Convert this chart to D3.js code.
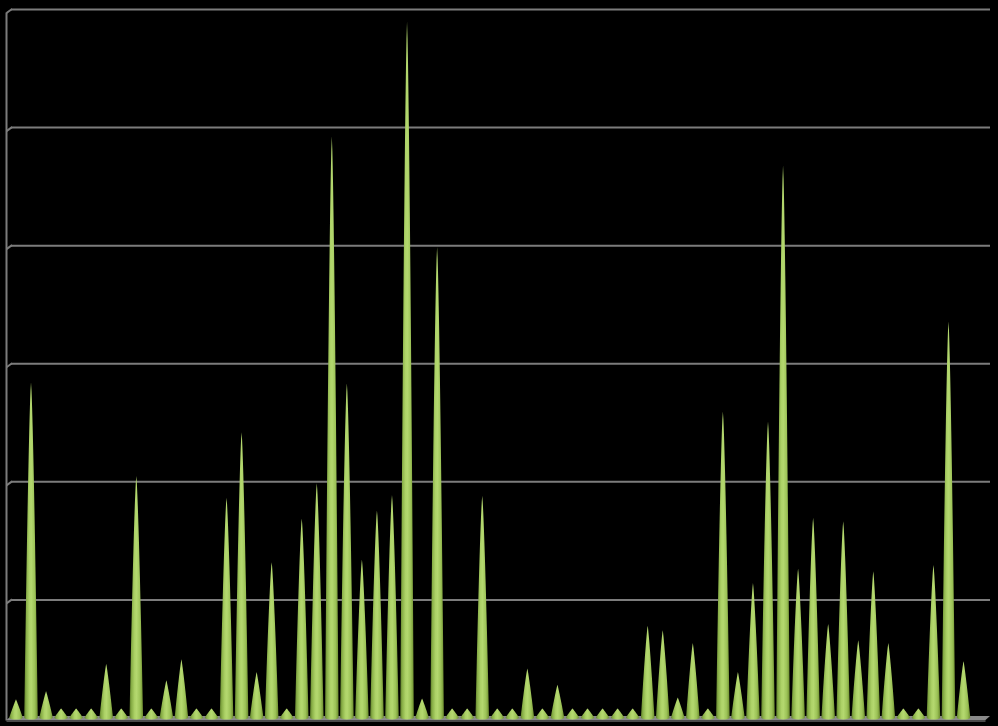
<!DOCTYPE html>
<html>
<head>
<meta charset="utf-8">
<script src="https://cdn.jsdelivr.net/npm/d3@7/dist/d3.min.js"></script>
<style>
  html, body { margin: 0; padding: 0; background: #000; }
  svg { display: block; }
</style>
</head>
<body>
<script>
// ---- data ----
const categories = ["1","2","3","4","5","6","7","8","9","10","11","12","13","14","15","16",
  "17","18","19","20","21","22","23","24","25","26","27","28","29","30","31","32",
  "33","34","35","36","37","38","39","40","41","42","43","44","45","46","47","48",
  "49","50","51","52","53","54","55","56","57","58","59","60","61","62","63","64"];
const values = [2, 36.9, 2.9, 1, 1, 1, 5.9, 1, 26.6, 1, 4.1, 6.4, 1, 1, 24.2, 31.4,
  5.0, 17.1, 1, 21.9, 25.8, 64.0, 36.8, 17.4, 22.8, 24.5, 76.6, 2.1, 51.8, 1, 1, 24.4,
  1, 1, 5.4, 1, 3.6, 1, 1, 1, 1, 1, 10.1, 9.6, 2.2, 8.2, 1, 33.7,
  5.0, 14.8, 32.6, 60.8, 16.4, 22.0, 10.3, 21.6, 8.5, 16.1, 8.2, 1, 1, 16.8, 43.6, 6.2];
const yTicks = [0, 13, 26, 39, 52, 65, 78];

// ---- layout ----
const W = 998, H = 726;
const svg = d3.select("body").append("svg").attr("width", W).attr("height", H);
svg.append("rect").attr("width", W).attr("height", H).attr("fill", "#000");

const y = d3.scaleLinear().domain([0, 78]).range([717.5, 9]);
const x = d3.scaleBand().domain(categories).range([9.2, 970.3]).paddingInner(0.1).paddingOuter(0);

const wallX = 6.5, backX = 11, rightX = 990;
const gridColor = "#7c7c7c";

// gradients
const defs = svg.append("defs");
const g1 = defs.append("linearGradient").attr("id", "coneGrad")
  .attr("x1", 0).attr("x2", 1).attr("y1", 0).attr("y2", 0);
[[0, "#60802a"], [0.15, "#88ae47"], [0.38, "#add267"], [0.52, "#b4d86f"],
 [0.78, "#9cc257"], [1, "#6c8c2e"]].forEach(([o, c]) =>
  g1.append("stop").attr("offset", o).attr("stop-color", c));

// gridlines via axis
const axis = d3.axisLeft(y).tickValues(yTicks.filter(t => t > 0))
  .tickSize(-(rightX - backX)).tickFormat("");
const ag = svg.append("g").attr("transform", `translate(${backX},0)`).call(axis);
ag.select(".domain").remove();
ag.selectAll(".tick line").attr("stroke", gridColor).attr("stroke-width", 2);

// side-wall stubs
svg.append("g").selectAll("path").data(yTicks.filter(t => t > 0)).join("path")
  .attr("d", t => `M${wallX},${y(t) + 4} L${backX + 1},${y(t)}`)
  .attr("stroke", gridColor).attr("stroke-width", 2).attr("fill", "none");

// left wall edge
svg.append("line").attr("x1", wallX).attr("x2", wallX)
  .attr("y1", y(78) + 3.5).attr("y2", y(0) + 3)
  .attr("stroke", gridColor).attr("stroke-width", 2);

// floor
const fy = y(0);
svg.append("path")
  .attr("d", `M${backX},${fy - 1.5} L${rightX},${fy - 1.5} L${rightX - 4.5},${fy + 2.5} L${wallX},${fy + 2.5} Z`)
  .attr("fill", "#8a8a8a");
svg.append("rect").attr("x", wallX).attr("y", fy + 2.5).attr("width", rightX - 4.5 - wallX).attr("height", 2)
  .attr("fill", "#4a4a4a");

// cones
function conePath(d) {
  const cx = x(d.cat) + x.bandwidth() / 2;
  const hw = x.bandwidth() / 2;
  const yb = y(0), yt = y(d.v), h = yb - yt;
  const p = 0.68 + 0.3 * Math.exp(-h / 120); // small cones straighter
  const n = 40;
  const left = [], right = [];
  for (let i = 0; i <= n; i++) {
    const f = 1 - i / n;
    const w = hw * Math.pow(1 - f, p);
    left.push([cx - w, yb - f * h]);
  }
  for (let i = n; i >= 0; i--) {
    const f = 1 - i / n;
    const w = hw * Math.pow(1 - f, p);
    right.push([cx + w, yb - f * h]);
  }
  let s = "M" + left.map(q => q[0].toFixed(2) + "," + q[1].toFixed(2)).join("L");
  s += `A${hw},2 0 0 0 ${(cx + hw).toFixed(2)},${yb}`;
  s += "L" + right.map(q => q[0].toFixed(2) + "," + q[1].toFixed(2)).join("L");
  return s + "Z";
}

const data = categories.map((c, i) => ({ cat: c, v: values[i] }));
svg.append("g").selectAll("path").data(data).join("path")
  .attr("d", conePath)
  .attr("fill", "url(#coneGrad)");
</script>
</body>
</html>
